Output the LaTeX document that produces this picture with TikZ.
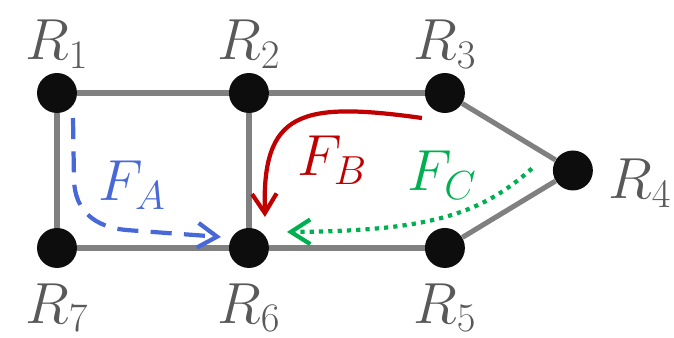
\RequirePackage{fix-cm}
\documentclass[tikz,border=0pt]{standalone}
\usepackage{xcolor}
\usetikzlibrary{arrows.meta,positioning}
\definecolor{linkgray}{RGB}{128,128,128}
\definecolor{labelgray}{RGB}{89,89,89}
\definecolor{flowblue}{RGB}{72,104,216}
\definecolor{flowred}{RGB}{192,0,0}
\definecolor{flowgreen}{RGB}{0,176,80}
\tikzset{
  router/.style={circle, fill=black!95, minimum size=0.8cm, inner sep=0pt},
  link/.style={draw=linkgray, line width=2.9pt},
  rlabel/.style={inner sep=0pt, text=labelgray, font=\fontsize{33}{36}\selectfont},
  flabel/.style={inner sep=0pt, text=#1, font=\fontsize{33}{36}\selectfont},
  flow/.style={draw=#1, line width=2.4pt, -{Straight Barb[length=11pt,width=14pt]}},
}

\begin{document}
\begin{tikzpicture}[x=0.02cm, y=-0.02cm, node distance=3.1cm and 3.84cm, on grid]
  \useasboundingbox (0,0) rectangle (674,338);
  % routers
  \node[router] (R1) at (57,93) {};
  \node[router, right=3.84cm of R1] (R2) {};
  \node[router, right=3.92cm of R2] (R3) {};
  \node[router, below=of R1] (R7) {};
  \node[router, below=of R2] (R6) {};
  \node[router, below=of R3] (R5) {};
  \node[router, below right=1.55cm and 2.56cm of R3] (R4) {};
  % links
  \draw[link] (R1) -- (R2);
  \draw[link] (R2) -- (R3);
  \draw[link] (R3) -- (R4);
  \draw[link] (R4) -- (R5);
  \draw[link] (R5) -- (R6);
  \draw[link] (R6) -- (R7);
  \draw[link] (R7) -- (R1);
  \draw[link] (R2) -- (R6);
  % router labels
  \begin{scope}[on grid=false]
    \node[rlabel, above=0.08cm of R1] (l1) {$R_1$};
    \node[rlabel, above=0.08cm of R2] (l2) {$R_2$};
    \node[rlabel, above=0.08cm of R3] (l3) {$R_3$};
    \node[rlabel, right=0.3cm of R4, yshift=-0.25cm] (l4) {$R_4$};
    \node[rlabel, below=0.3cm of R5] (l5) {$R_5$};
    \node[rlabel, below=0.3cm of R6] (l6) {$R_6$};
    \node[rlabel, below=0.3cm of R7] (l7) {$R_7$};
  \end{scope}
  % flows
  \coordinate (faS) at ([shift={(16,25)}]R1.center);
  \coordinate (faE) at ([shift={(-28,-11)}]R6.center);
  \coordinate (fbS) at ([shift={(-23,25)}]R3.center);
  \coordinate (fbE) at ([shift={(16,-31)}]R6.center);
  \coordinate (fcS) at ([shift={(-41,-2)}]R4.center);
  \coordinate (fcE) at ([shift={(38,-16)}]R6.center);
  \draw[flow=flowblue, dash pattern=on 12pt off 7pt]
    (faS) -- ++(1,62) .. controls +(1,32) and +(-30,-3) .. ++(52,50) -- (faE);
  \draw[flow=flowred] (fbS) .. controls +(-122,-17) and +(-3,-105) .. (fbE);
  \draw[flow=flowgreen, dash pattern=on 2.4pt off 2.9pt] (fcS) .. controls +(-52,47) and +(140,-1) .. (fcE);
  \node[flabel=flowblue] (fa) at (132,185) {$F_A$};
  \node[flabel=flowred] (fb) at (332,160) {$F_B$};
  \node[flabel=flowgreen] (fc) at (442,175) {$F_C$};
\end{tikzpicture}
\end{document}
